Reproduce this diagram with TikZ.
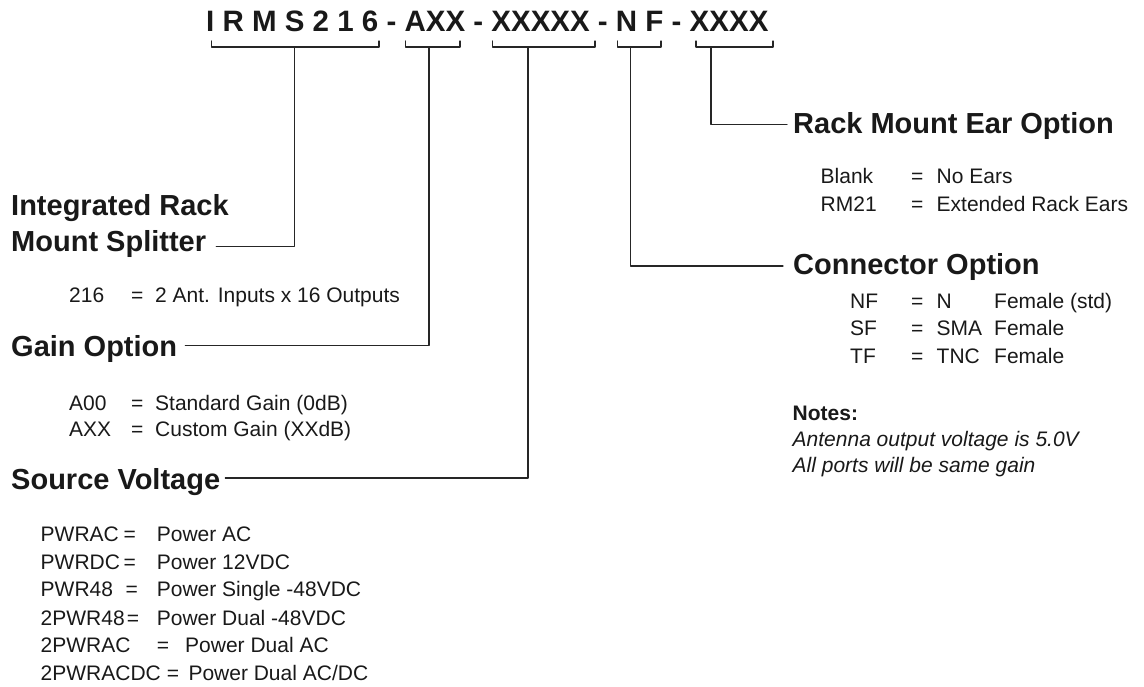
\documentclass[tikz,border=0pt]{standalone}
\usepackage{fontspec}
\setmainfont{Liberation Sans}
\usetikzlibrary{positioning}

\begin{document}
\begin{tikzpicture}[x=1pt, y=-1pt, line cap=round, line join=round,
  title/.style={inner sep=0pt, anchor=base west, text=black!90,
    font=\fontsize{29.5}{35}\selectfont\bfseries},
  heading/.style={inner sep=0pt, anchor=base west, text=black!90,
    font=\fontsize{29}{35}\selectfont\bfseries},
  item/.style={inner sep=0pt, anchor=base west, text=black!90,
    font=\fontsize{21}{25}\selectfont},
  note/.style={item, font=\fontsize{21}{25}\selectfont\itshape},
  lead/.style={line width=1.3pt, draw=black!85}]

% --- Frame (px) ---
\useasboundingbox (0,0) rectangle (1144,687);

% --- Part number ---
\node[title] (partno) at (206,31.7) {I R M S 2 1 6 - AXX - XXXXX - N F - XXXX};

% --- Brackets under the part number ---
\foreach \l/\s/\r [count=\i] in {211.5/294.5/379, 405.5/429/460, 492.8/528/595,
    617.3/630.7/661, 696/711/773} {
  \draw[lead] (\l,41) |- (\r,47) -- (\r,41);
  \coordinate (s\i) at (\s,47);
}

% --- Integrated Rack Mount Splitter ---
\node[heading] (irms1) at (11,216) {Integrated Rack};
\node[heading] (irms2) at (11,251.7) {Mount Splitter};
\node[item] (irmsc) at (69,303) {216};
\node[item] (irmse) at (131,303) {=};
\node[item] (irmsd) at (155,303) {2 Ant. Inputs x 16 Outputs};

% --- Gain option ---
\node[heading] (gainhd) at (11,356.7) {Gain Option};
\foreach \y/\code/\desc [count=\i] in {410/A00/{Standard Gain (0dB)},
    436.7/AXX/{Custom Gain (XXdB)}} {
  \node[item] (gc\i) at (69,\y) {\code};
  \node[item] (ge\i) at (131,\y) {=};
  \node[item] (gd\i) at (155,\y) {\desc};
}

% --- Source voltage ---
\node[heading] (volthd) at (11,489) {Source Voltage};
\foreach \y/\code/\ex/\dx/\desc [count=\i] in {
    541/PWRAC/123.5/156.7/{Power AC},
    569/PWRDC/123.5/156.7/{Power 12VDC},
    596.7/PWR48/125.5/156.7/{Power Single -48VDC},
    625/2PWR48/126.7/156.7/{Power Dual -48VDC},
    652.7/2PWRAC/156.7/185/{Power Dual AC},
    680/2PWRACDC/166.7/188.3/{Power Dual AC/DC}} {
  \node[item] (vc\i) at (40.5,\y) {\code};
  \node[item] (ve\i) at (\ex,\y) {=};
  \node[item] (vd\i) at (\dx,\y) {\desc};
}

% --- Rack mount ear option ---
\node[heading] (earhd) at (793,133.3) {Rack Mount Ear Option};
\foreach \y/\code/\desc [count=\i] in {183.3/Blank/{No Ears},
    211.7/RM21/{Extended Rack Ears}} {
  \node[item] (ec\i) at (820.5,\y) {\code};
  \node[item] (ee\i) at (911,\y) {=};
  \node[item] (ed\i) at (936.5,\y) {\desc};
}

% --- Connector option ---
\node[heading] (connhd) at (793,275) {Connector Option};
\foreach \y/\code/\type/\desc [count=\i] in {308.3/NF/N/{Female (std)},
    335/SF/SMA/Female, 363.3/TF/TNC/Female} {
  \node[item] (cc\i) at (850,\y) {\code};
  \node[item] (ce\i) at (911,\y) {=};
  \node[item] (ct\i) at (936.5,\y) {\type};
  \node[item] (cd\i) at (994,\y) {\desc};
}

% --- Notes ---
\node[item, font=\fontsize{21}{25}\selectfont\bfseries] (notes) at (792.5,420) {Notes:};
\node[note] (note1) at (792.5,446.5) {Antenna output voltage is 5.0V};
\node[note] (note2) at (792.5,472) {All ports will be same gain};

% --- Leads from brackets to headings ---
\draw[lead] (s1) |- ([xshift=10pt,yshift=5pt]irms2.base east);
\draw[lead] (s2) |- ([xshift=8pt,yshift=11pt]gainhd.base east);
\draw[lead] (s3) |- ([xshift=5pt,yshift=11pt]volthd.base east);
\draw[lead] (s4) |- ([xshift=-10pt,yshift=9pt]connhd.base west);
\draw[lead] (s5) |- ([xshift=-6pt,yshift=9pt]earhd.base west);

\end{tikzpicture}
\end{document}
